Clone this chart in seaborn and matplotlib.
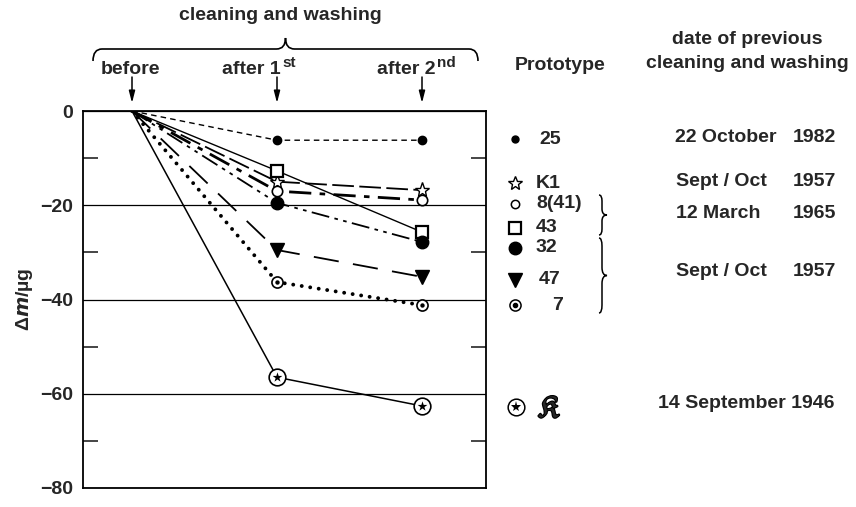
import os
import numpy as np
import pandas as pd
import matplotlib
matplotlib.use('Agg')
import matplotlib.pyplot as plt
import matplotlib.patheffects as pe
import seaborn as sns
from matplotlib.path import Path
from matplotlib.patches import PathPatch
from matplotlib import font_manager, ft2font
from matplotlib.font_manager import FontProperties

# ---------------- data ----------------
stage_x = [0, 1, 2]
stage_labels = ['before', 'after 1', 'after 2']
stage_sups = ['', 'st', 'nd']

dm_25 = [0, -6.2, -6.2]
dm_K1 = [0, -15.0, -16.8]
dm_8_41 = [0, -17.0, -18.9]
dm_43 = [0, -12.7, -25.7]
dm_32 = [0, -19.5, -27.8]
dm_47 = [0, -29.5, -35.2]
dm_7 = [0, -36.3, -41.2]
dm_K = [0, -56.5, -62.6]

legend_names = ['25', 'K1', '8(41)', '43', '32', '47', '7']
date_texts = ['22 October', 'Sept / Oct', '12 March', 'Sept / Oct', '14 September']
date_years = ['1982', '1957', '1965', '1957', '1946']

yticks = [0, -20, -40, -60, -80]
ytick_labels = ['0', '\u221220', '\u221240', '\u221260', '\u221280']
minor_yticks = [-10, -30, -50, -70]

# ---------------- font with a Fraktur K, if any ----------------
FRAK_K = '\U0001D50E'
frak_file = None
cands = list(font_manager.findSystemFonts())
mpl_ttf = os.path.join(matplotlib.get_data_path(), 'fonts', 'ttf')
if os.path.isdir(mpl_ttf):
    cands += [os.path.join(mpl_ttf, f) for f in os.listdir(mpl_ttf) if f.lower().endswith(('.ttf', '.otf'))]
for f in cands:
    try:
        ftf = ft2font.FT2Font(f)
        if ftf.get_char_index(ord(FRAK_K)):
            frak_file = f
            break
    except Exception:
        pass

# ---------------- style ----------------
sns.set_style('white')
plt.rcParams['font.family'] = ['Liberation Sans', 'DejaVu Sans']
plt.rcParams['font.weight'] = 'bold'
plt.rcParams['axes.labelweight'] = 'bold'

W, H = 856, 507
fig = plt.figure(figsize=(W / 100, H / 100), dpi=100)
ax = fig.add_axes([83 / W, 1 - 488 / H, (486 - 83) / W, (488 - 111) / H])

K = 'black'
FS = 14

def series(y, ls, lw, marker, ms, mfc, mew=1.0, **kw):
    sns.lineplot(x=stage_x, y=y, ax=ax, color=K, linestyle=ls, linewidth=lw,
                 marker=marker, markersize=ms, markerfacecolor=mfc,
                 markeredgecolor=K, markeredgewidth=mew, markevery=[1, 2], **kw)

series(dm_25, (0, (4, 3)), 1.0, 'o', 6, K)
series(dm_K1, (0, (12, 3)), 1.3, '*', 11, 'white', 1.0)
series(dm_8_41, (0, (8, 3, 2, 3)), 2.0, 'o', 7.5, 'white', 1.2)
series(dm_43, '-', 1.0, 's', 8.5, 'white', 1.6)
series(dm_32, (0, (10, 3, 2, 3, 2, 3)), 1.3, 'o', 9, K)
series(dm_47, (0, (14, 8)), 1.3, 'v', 10, K)
series(dm_7, (0, (0.01, 2.2)), 2.8, 'o', 8, 'white', 1.2, dash_capstyle='round')
sns.scatterplot(x=stage_x[1:], y=dm_7[1:], ax=ax, color=K, s=10, marker='o',
                edgecolor=K, linewidth=0, zorder=5)
series(dm_K, '-', 1.1, 'o', 12, 'white', 1.2)
sns.scatterplot(x=stage_x[1:], y=dm_K[1:], ax=ax, color=K, s=55, marker='*',
                edgecolor=K, linewidth=0, zorder=5)

ax.set_xlim(-0.338, 2.441)
ax.set_ylim(-80, 0)
ax.set_xticks([])
ax.set_yticks(yticks)
ax.set_yticklabels(ytick_labels, fontsize=FS, fontweight='bold')
ax.set_yticks(minor_yticks, minor=True)
ax.tick_params(axis='y', which='major', length=0, pad=7)
ax.tick_params(axis='y', which='minor', direction='in', length=11, width=1.2,
               left=True, right=True)
ax.grid(axis='y', which='major', color=K, linewidth=0.9)
ax.grid(axis='x', visible=False)
for s in ax.spines.values():
    s.set_visible(True)
    s.set_color(K)
    s.set_linewidth(1.3)
ax.set_xlabel('')
ax.set_ylabel('\u0394$m$/\u00b5g', fontsize=14, fontweight='bold', labelpad=4)

# ---------------- annotation overlay (pixel coordinates) ----------------
ov = fig.add_axes([0, 0, 1, 1], zorder=3)
ov.set_xlim(0, W)
ov.set_ylim(H, 0)
ov.axis('off')
ov.patch.set_visible(False)

def hbrace(x0, x1, y, hend, htip, r):
    xm = (x0 + x1) / 2
    verts = [(x0, y + hend), (x0, y), (x0 + r, y), (xm - r, y), (xm, y), (xm, y - htip),
             (xm, y), (xm + r, y), (x1 - r, y), (x1, y), (x1, y + hend)]
    codes = [Path.MOVETO, Path.CURVE3, Path.CURVE3, Path.LINETO, Path.CURVE3, Path.CURVE3,
             Path.CURVE3, Path.CURVE3, Path.LINETO, Path.CURVE3, Path.CURVE3]
    ov.add_patch(PathPatch(Path(verts, codes), fill=False, lw=1.2, ec=K))

def vbrace(x, y0, y1, wend, wtip, r):
    ym = (y0 + y1) / 2
    verts = [(x - wend, y0), (x, y0), (x, y0 + r), (x, ym - r), (x, ym), (x + wtip, ym),
             (x, ym), (x, ym + r), (x, y1 - r), (x, y1), (x - wend, y1)]
    codes = [Path.MOVETO, Path.CURVE3, Path.CURVE3, Path.LINETO, Path.CURVE3, Path.CURVE3,
             Path.CURVE3, Path.CURVE3, Path.LINETO, Path.CURVE3, Path.CURVE3]
    ov.add_patch(PathPatch(Path(verts, codes), fill=False, lw=1.1, ec=K))

ov.text(280, 16, 'cleaning and washing', ha='center', va='center', fontsize=FS, fontweight='bold')
hbrace(93, 478, 49, 12, 11, 9)

stage_px = [132, 277, 422]
ov.text(stage_px[0] - 2, 69, stage_labels[0], ha='center', va='center', fontsize=FS, fontweight='bold')
ov.text(281, 69, stage_labels[1], ha='right', va='center', fontsize=FS, fontweight='bold')
ov.text(282, 63, stage_sups[1], ha='left', va='center', fontsize=11, fontweight='bold')
ov.text(436, 69, stage_labels[2], ha='right', va='center', fontsize=FS, fontweight='bold')
ov.text(437, 63, stage_sups[2], ha='left', va='center', fontsize=11, fontweight='bold')
for xp in stage_px:
    ov.annotate('', xy=(xp, 103), xytext=(xp, 77),
                arrowprops=dict(arrowstyle='-|>,head_length=0.7,head_width=0.18',
                                color=K, lw=1.1, shrinkA=0, shrinkB=0))

# legend column
ov.text(560, 66, 'Prototype', ha='center', va='center', fontsize=FS, fontweight='bold')
leg_y = [139, 183, 204, 228, 248, 280, 305]
leg_x_txt = [539, 536, 536, 536, 536, 539, 552]
mk = [('o', 5, K, 1), ('*', 10, 'white', 1.0), ('o', 6, 'white', 1.1), ('s', 8, 'white', 1.6),
      ('o', 9, K, 1), ('v', 10, K, 1), ('o', 8, 'white', 1.1)]
for yy, (m, s, fc, mw) in zip(leg_y, mk):
    ov.plot([515], [yy], marker=m, ms=s, mfc=fc, mec=K, mew=mw, ls='none')
ov.plot([515], [305], marker='o', ms=3, mfc=K, mec=K, ls='none')
for name, yy, xx in zip(legend_names, leg_y, leg_x_txt):
    ov.text(xx, yy, name, ha='left', va='center', fontsize=FS, fontweight='bold')
ov.plot([516], [407], marker='o', ms=12, mfc='white', mec=K, mew=1.1, ls='none')
ov.plot([516], [407], marker='*', ms=8, mfc=K, mec=K, mew=0, ls='none')
if frak_file is not None:
    ov.text(538, 409, FRAK_K, ha='left', va='center',
            fontproperties=FontProperties(fname=frak_file, size=22),
            path_effects=[pe.withStroke(linewidth=1.6, foreground=K)])
else:
    ov.text(539, 408, 'K', ha='left', va='center', fontsize=19,
            family=['DejaVu Serif'], fontweight='bold', fontstyle='italic')

vbrace(602, 195, 235, 3, 5, 6)
vbrace(602, 238, 313, 3, 5, 8)

# dates column
ov.text(747, 40, 'date of previous', ha='center', va='center', fontsize=FS, fontweight='bold')
ov.text(747, 63, 'cleaning and washing', ha='center', va='center', fontsize=FS, fontweight='bold')
date_y = [137, 182, 213, 272, 403]
date_x = [675, 676, 676, 676, 658]
year_x = [793, 793, 793, 793, 793]
for t, yr, yy, xx, yx in zip(date_texts, date_years, date_y, date_x, year_x):
    if t.startswith('14'):
        ov.text(xx, yy, t + ' ' + yr, ha='left', va='center', fontsize=FS, fontweight='bold')
    else:
        ov.text(xx, yy, t, ha='left', va='center', fontsize=FS, fontweight='bold')
        ov.text(yx, yy, yr, ha='left', va='center', fontsize=FS, fontweight='bold')

fig.savefig('out.png', dpi=100)
